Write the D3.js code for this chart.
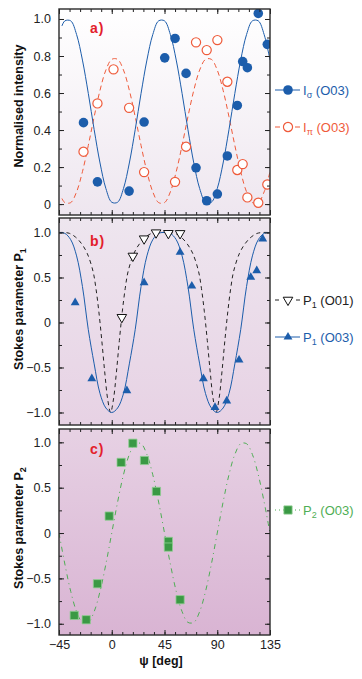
<!DOCTYPE html>
<html>
<head>
<meta charset="utf-8">
<script src="https://cdn.jsdelivr.net/npm/d3@7"></script>
<style>
  body { margin: 0; background: #fff; }
  svg { display: block; font-family: "Liberation Sans", Arial, Helvetica, sans-serif; }
</style>
</head>
<body>
<div id="chart"></div>
<script>
// ---- data ----
// panel a: measured intensities
const sigmaPsi = [-24.1, -12.2, 14.8, 27.6, 45.2, 54, 63.4, 71.9, 81, 90.1, 98.6, 107.1, 111.7, 115.7, 125, 132.7];
const sigmaVal = [0.44, 0.12, 0.07, 0.443, 0.79, 0.895, 0.706, 0.196, 0.018, 0.054, 0.26, 0.533, 0.77, 0.737, 1.03, 0.863];
const piPsi = [-24.1, -12.2, 1.5, 14.8, 27.6, 54, 63.4, 71.9, 81, 90.1, 98.6, 107.1, 111.7, 115.7, 125, 132.7];
const piVal = [0.283, 0.544, 0.728, 0.52, 0.173, 0.12, 0.31, 0.874, 0.832, 0.886, 0.661, 0.184, 0.216, 0.036, 0.007, 0.106];

// panel a: fitted curves [psi, value]
const sigmaFit = [[-42.5,.962],[-40,.990],[-35,.990],[-30,.916],[-25,.778],[-20,.598],[-15,.402],[-10,.222],[-5,.084],[0,.010],[5,.010],[10,.084],[15,.222],[20,.402],[25,.598],[30,.778],[35,.916],[40,.990],[45,.990],[50,.916],[55,.778],[60,.598],[65,.402],[70,.222],[75,.084],[80,.010],[85,.010],[90,.084],[95,.222],[100,.402],[105,.598],[110,.778],[115,.916],[120,.990],[125,.990],[130,.916],[135,.778]];
const piFit = [[-42.5,.030],[-40,.008],[-35,.008],[-30,.066],[-25,.175],[-20,.317],[-15,.472],[-10,.615],[-5,.724],[0,.782],[5,.782],[10,.724],[15,.615],[20,.472],[25,.317],[30,.175],[35,.066],[40,.008],[45,.008],[50,.066],[55,.175],[60,.317],[65,.472],[70,.615],[75,.724],[80,.782],[85,.782],[90,.724],[95,.615],[100,.472],[105,.317],[110,.175],[115,.066],[120,.008],[125,.008],[130,.066],[135,.175]];

// panel b: Stokes P1
const p1aPsi = [8.6, 18, 27.6, 37.8, 48.3, 58.3];            // (O01)
const p1aVal = [0.058, 0.739, 0.931, 0.998, 0.991, 0.99];
const p1bPsi = [-31.2, -17, 12.9, 27.6, 58.3, 68.3, 78.2, 88.1, 98.1, 108.6, 118.6, 123.7, 128.8]; // (O03)
const p1bVal = [0.22, -0.624, -0.757, 0.442, 0.78, 0.405, -0.624, -0.943, -0.872, -0.417, 0.502, 0.576, 0.928];

const p1aFit = [[-45,1],[-41,1],[-36,.99],[-31,.95],[-26,.88],[-21,.77],[-16,.57],[-13.5,.38],[-11,.12],[-8.5,-.2],[-6,-.55],[-3.5,-.85],[-1,-1],[1.5,-.85],[4,-.55],[6.5,-.2],[9,.12],[11.5,.38],[14,.57],[19,.77],[24,.88],[29,.95],[34,.99],[39,1],[45,1],[49,1],[54,.99],[59,.95],[64,.88],[69,.77],[74,.57],[76.5,.38],[79,.12],[81.5,-.2],[84,-.55],[86.5,-.85],[89,-1],[91.5,-.85],[94,-.55],[96.5,-.2],[99,.12],[101.5,.38],[104,.57],[109,.77],[114,.88],[119,.95],[124,.99],[129,1],[135,1]];
const p1bFit = [[-45,1],[-40,.99],[-35,.92],[-30,.74],[-25,.40],[-20,-.08],[-15,-.46],[-10,-.79],[-5,-.95],[0,-1],[5,-.95],[10,-.79],[15,-.46],[20,-.08],[25,.40],[30,.74],[35,.92],[40,.99],[45,1],[50,.99],[55,.92],[60,.74],[65,.40],[70,-.08],[75,-.46],[80,-.79],[85,-.95],[90,-1],[95,-.95],[100,-.79],[105,-.46],[110,-.08],[115,.40],[120,.74],[125,.92],[130,.99],[135,1]];

// panel c: Stokes P2
const p2Psi = [-32, -21.8, -12.2, -2.2, 8, 18, 27.9, 38.1, 48.3, 48.3, 58.3];
const p2Val = [-0.908, -0.956, -0.559, 0.187, 0.779, 0.99, 0.80, 0.459, -0.092, -0.155, -0.735];
const p2Fit = [[-45,0],[-40,-.342],[-35,-.643],[-30,-.866],[-25,-.985],[-20,-.985],[-15,-.866],[-10,-.643],[-5,-.342],[0,0],[5,.342],[10,.643],[15,.866],[20,.985],[25,.985],[30,.866],[35,.643],[40,.342],[45,0],[50,-.342],[55,-.643],[60,-.866],[65,-.985],[70,-.985],[75,-.866],[80,-.643],[85,-.342],[90,0],[95,.342],[100,.643],[105,.866],[110,.985],[115,.985],[120,.866],[125,.643],[130,.342],[135,0]];

// tick labels
const psiTicks = [-45, 0, 45, 90, 135];
const intensityTicks = [0, 0.2, 0.4, 0.6, 0.8, 1.0];
const stokesTicks = [-1.0, -0.5, 0, 0.5, 1.0];

// ---- chart settings ----
const width = 362, height = 679;
const left = 59, right = 270;
const blue = "#1c5dab", orange = "#ef5b3b", green = "#4fae55", red = "#e3202b";

const svg = d3.select("#chart").append("svg")
  .attr("width", width)
  .attr("height", height);

const defs = svg.append("defs");
const grad = defs.append("linearGradient")
  .attr("id", "bg")
  .attr("gradientUnits", "userSpaceOnUse")
  .attr("x1", 0).attr("y1", 9).attr("x2", 0).attr("y2", 635);
grad.append("stop").attr("offset", 0).attr("stop-color", "#ffffff");
grad.append("stop").attr("offset", 0.33).attr("stop-color", "#eee6ef");
grad.append("stop").attr("offset", 0.66).attr("stop-color", "#e7d2e4");
grad.append("stop").attr("offset", 1).attr("stop-color", "#d9b4d3");

const x = d3.scaleLinear().domain([-45, 135]).range([left, right]);

const numFmt = d => d === 0 ? "0" : d3.format(".1f")(d).replace("-", "\u2212");

const panels = [
  { id: "a", top: 9, bottom: 215, domain: [-0.059, 1.054], major: intensityTicks, minor: d3.range(0, 1.01, 0.1), label: "a)", labelY: 33 },
  { id: "b", top: 218, bottom: 425, domain: [-1.139, 1.161], major: stokesTicks, minor: d3.range(-1, 1.01, 0.25), label: "b)", labelY: 246 },
  { id: "c", top: 429, bottom: 635, domain: [-1.124, 1.147], major: stokesTicks, minor: d3.range(-1, 1.01, 0.25), label: "c)", labelY: 454 }
];

panels.forEach(p => {
  p.y = d3.scaleLinear().domain(p.domain).range([p.bottom, p.top]);
  p.g = svg.append("g");
  p.g.append("rect")
    .attr("x", left).attr("y", p.top)
    .attr("width", right - left).attr("height", p.bottom - p.top)
    .attr("fill", "url(#bg)");
  defs.append("clipPath").attr("id", "clip-" + p.id)
    .append("rect")
    .attr("x", left).attr("y", p.top)
    .attr("width", right - left).attr("height", p.bottom - p.top);
  p.plot = p.g.append("g").attr("clip-path", `url(#clip-${p.id})`);
});

// ---- axes (ticks inside on all four sides) ----
function cleanAxis(g) {
  g.select(".domain").remove();
  g.selectAll(".tick line").attr("stroke", "#222").attr("stroke-width", 1);
}

panels.forEach((p, i) => {
  const g = p.g;
  const minorX = d3.range(-45, 136, 9);
  // minor
  g.append("g").attr("transform", `translate(${left},0)`)
    .call(d3.axisLeft(p.y).tickValues(p.minor).tickSize(-3).tickFormat("")).call(cleanAxis);
  g.append("g").attr("transform", `translate(${right},0)`)
    .call(d3.axisRight(p.y).tickValues(p.minor).tickSize(-3).tickFormat("")).call(cleanAxis);
  g.append("g").attr("transform", `translate(0,${p.bottom})`)
    .call(d3.axisBottom(x).tickValues(minorX).tickSize(-3).tickFormat("")).call(cleanAxis);
  g.append("g").attr("transform", `translate(0,${p.top})`)
    .call(d3.axisTop(x).tickValues(minorX).tickSize(-3).tickFormat("")).call(cleanAxis);
  // major
  g.append("g").attr("transform", `translate(${left},0)`)
    .call(d3.axisLeft(p.y).tickValues(p.major).tickSize(-5).tickPadding(8).tickFormat(numFmt))
    .call(cleanAxis)
    .call(a => a.selectAll("text").attr("font-size", 12.5).attr("fill", "#222").attr("font-family", null));
  g.append("g").attr("transform", `translate(${right},0)`)
    .call(d3.axisRight(p.y).tickValues(p.major).tickSize(-5).tickFormat("")).call(cleanAxis);
  g.append("g").attr("transform", `translate(0,${p.bottom})`)
    .call(d3.axisBottom(x).tickValues(psiTicks).tickSize(-5).tickPadding(5.5)
      .tickFormat(i === 2 ? (d => String(d).replace("-", "\u2212")) : ""))
    .call(cleanAxis)
    .call(a => a.selectAll("text").attr("font-size", 12.5).attr("fill", "#222").attr("font-family", null));
  g.append("g").attr("transform", `translate(0,${p.top})`)
    .call(d3.axisTop(x).tickValues(psiTicks).tickSize(-5).tickFormat("")).call(cleanAxis);
});

// ---- curves and markers ----
const lineFor = y => d3.line().x(d => x(d[0])).y(d => y(d[1])).curve(d3.curveCatmullRom);

function drawFit(p, data, color, dash, w) {
  p.plot.append("path")
    .datum(data)
    .attr("d", lineFor(p.y))
    .attr("fill", "none")
    .attr("stroke", color)
    .attr("stroke-width", w || 1)
    .attr("stroke-dasharray", dash);
}

function drawSymbols(p, psi, val, type, size, fill, stroke, sw, rot) {
  p.plot.append("g").selectAll("path")
    .data(psi.map((d, i) => [d, val[i]]))
    .join("path")
    .attr("d", d3.symbol().type(type).size(size))
    .attr("transform", d => `translate(${x(d[0])},${p.y(d[1])})${rot ? " rotate(180)" : ""}`)
    .attr("fill", fill)
    .attr("stroke", stroke)
    .attr("stroke-width", sw);
}

const [pa, pb, pc] = panels;

drawFit(pa, piFit, orange, "5,3.5", 1);
drawFit(pa, sigmaFit, blue, null, 1);
drawSymbols(pa, piPsi, piVal, d3.symbolCircle, 66, "#fff", orange, 1.2);
drawSymbols(pa, sigmaPsi, sigmaVal, d3.symbolCircle, 72, blue, "none", 0);

drawFit(pb, p1aFit, "#222", "4,3.5", 1);
drawFit(pb, p1bFit, blue, null, 1);
drawSymbols(pb, p1bPsi, p1bVal, d3.symbolTriangle, 34, blue, "none", 0);
drawSymbols(pb, p1aPsi, p1aVal, d3.symbolTriangle, 40, "#fff", "#111", 1, true);

drawFit(pc, p2Fit, green, "5,4,1,4", 1);
drawSymbols(pc, p2Psi, p2Val, d3.symbolSquare, 68, "#3a9944", "#8fce92", 0.8);

// frames
panels.forEach(p => {
  p.g.append("rect")
    .attr("x", left).attr("y", p.top)
    .attr("width", right - left).attr("height", p.bottom - p.top)
    .attr("fill", "none").attr("stroke", "#2a2a2a").attr("stroke-width", 1.4);
  p.g.append("text")
    .attr("x", 90).attr("y", p.labelY)
    .attr("fill", red).attr("font-weight", "bold")
    .attr("font-size", 14).attr("letter-spacing", 1)
    .text(p.label);
});

// ---- axis titles ----
function yTitle(cy, main, sub) {
  const t = svg.append("text")
    .attr("transform", `translate(23,${cy}) rotate(-90)`)
    .attr("text-anchor", "middle")
    .attr("font-weight", "bold")
    .attr("font-size", 12.5)
    .attr("fill", "#111");
  t.append("tspan").text(main);
  if (sub) t.append("tspan").attr("font-size", 9).attr("dy", 3).text(sub);
}
yTitle(106, "Normalised intensity");
yTitle(309, "Stokes parameter P", "1");
yTitle(528, "Stokes parameter P", "2");

svg.append("text")
  .attr("x", 161).attr("y", 665)
  .attr("text-anchor", "middle")
  .attr("font-weight", "bold")
  .attr("font-size", 12.5)
  .attr("fill", "#111")
  .text("\u03c8 [deg]");

// ---- legends ----
function legendItem(yy, color, dash, drawMarker, main, sub) {
  const g = svg.append("g");
  g.append("line")
    .attr("x1", 275).attr("x2", 300).attr("y1", yy).attr("y2", yy)
    .attr("stroke", color).attr("stroke-width", 1)
    .attr("stroke-dasharray", dash);
  drawMarker(g, 288, yy);
  const t = g.append("text")
    .attr("x", 303).attr("y", yy + 5)
    .attr("fill", color)
    .attr("font-size", 13);
  t.append("tspan").text(main);
  t.append("tspan").attr("font-size", 9).attr("dy", 3).text(sub);
  t.append("tspan").attr("dy", -3).text(" (O03)".replace("O03", main === "P" && color === "#222" ? "O01" : "O03"));
}

const sym = (type, size, fill, stroke, sw, rot) => (g, cx, cy) =>
  g.append("path")
    .attr("d", d3.symbol().type(type).size(size))
    .attr("transform", `translate(${cx},${cy})${rot ? " rotate(180)" : ""}`)
    .attr("fill", fill).attr("stroke", stroke).attr("stroke-width", sw);

legendItem(90, blue, null, sym(d3.symbolCircle, 72, blue, "none", 0), "I", "\u03c3");
legendItem(127, orange, "5,15,5", sym(d3.symbolCircle, 66, "#fff", orange, 1.2), "I", "\u03c0");
legendItem(300, "#222", "4,17,4", sym(d3.symbolTriangle, 40, "#fff", "#111", 1, true), "P", "1");
legendItem(337, blue, null, sym(d3.symbolTriangle, 34, blue, "none", 0), "P", "1");
legendItem(510, green, "1,3", sym(d3.symbolSquare, 68, "#3a9944", "#8fce92", 0.8), "P", "2");
</script>
</body>
</html>
